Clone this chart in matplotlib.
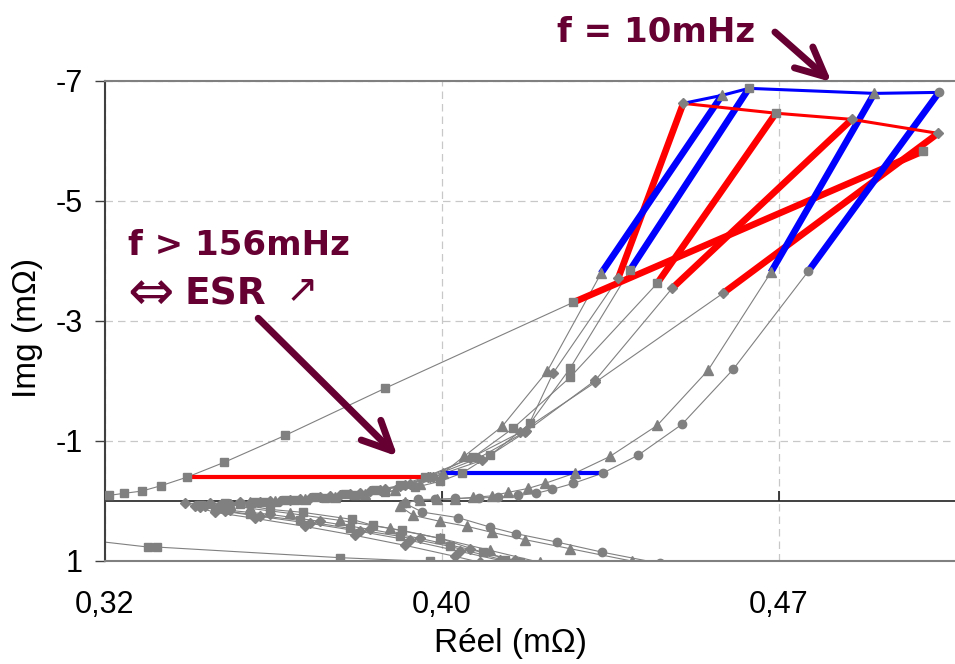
import matplotlib
matplotlib.use("Agg")
import matplotlib.pyplot as plt
from matplotlib.patches import ArrowStyle

plt.rcParams['font.family'] = ['Liberation Sans', 'DejaVu Sans']
plt.rcParams['axes.unicode_minus'] = False

# ---------------- impedance data (real part, imaginary part) in mOhm ----------------
# Each sweep runs from 10 mHz (first point) to high frequency (last point).

# sweeps ending in the red family
re_ra = [0.4487, 0.4342, 0.4197, 0.4135, 0.4039, 0.3930, 0.3879, 0.3823, 0.3768, 0.3701, 0.3634,
         0.3567, 0.3501, 0.3434, 0.3378, 0.3411, 0.3478, 0.3567, 0.3679, 0.3790, 0.3901, 0.4012, 0.4113]
im_ra = [-6.622, -3.705, -2.122, -1.138, -0.672, -0.393, -0.272, -0.188, -0.122, -0.072, -0.022,
         0.012, 0.028, 0.045, 0.045, 0.112, 0.162, 0.228, 0.345, 0.478, 0.628, 0.812, 0.995]

re_rb = [0.4693, 0.4429, 0.4235, 0.4108, 0.4019, 0.3912, 0.3857, 0.3801, 0.3734, 0.3667, 0.3601,
         0.3534, 0.3467, 0.3411, 0.3445, 0.3523, 0.3634, 0.3745, 0.3857, 0.3968, 0.4090]
im_rb = [-6.458, -3.622, -2.055, -1.205, -0.722, -0.393, -0.255, -0.172, -0.105, -0.055, -0.005,
         0.028, 0.045, 0.078, 0.145, 0.228, 0.328, 0.462, 0.595, 0.762, 0.995]

re_rc = [0.4862, 0.4462, 0.4291, 0.4137, 0.4030, 0.3923, 0.3868, 0.3812, 0.3745, 0.3679, 0.3612,
         0.3545, 0.3478, 0.3423, 0.3467, 0.3545, 0.3656, 0.3768, 0.3879, 0.3990, 0.4079]
im_rc = [-6.355, -3.538, -2.005, -1.155, -0.705, -0.393, -0.255, -0.172, -0.105, -0.055, -0.005,
         0.028, 0.062, 0.095, 0.178, 0.262, 0.378, 0.512, 0.662, 0.845, 0.995]

re_rd = [0.5020, 0.4242, 0.3823, 0.3601, 0.3465, 0.3383, 0.3325, 0.3282, 0.3242, 0.3209, 0.3156,
         0.3122, 0.3127, 0.3167, 0.3296, 0.3316, 0.3723, 0.3923]
im_rd = [-5.822, -3.305, -1.872, -1.088, -0.638, -0.393, -0.250, -0.160, -0.122, -0.088, -0.038,
         0.078, 0.412, 0.662, 0.773, 0.773, 0.950, 1.012]

re_re = [0.5054, 0.4575, 0.4291, 0.4124, 0.4012, 0.3919, 0.3857, 0.3790, 0.3723, 0.3656, 0.3590,
         0.3523, 0.3456, 0.3400, 0.3445, 0.3534, 0.3645, 0.3756, 0.3868, 0.3979, 0.4035]
im_re = [-6.122, -3.455, -1.972, -1.138, -0.705, -0.393, -0.238, -0.155, -0.088, -0.038, 0.003,
         0.045, 0.078, 0.095, 0.195, 0.295, 0.428, 0.578, 0.745, 0.928, 1.028]

# sweeps ending in the blue family
re_b1 = [0.4573, 0.4304, 0.4184, 0.4084, 0.3999, 0.3952, 0.3901, 0.3846, 0.3779, 0.3712, 0.3645,
         0.3578, 0.3523, 0.3478, 0.3523, 0.3612, 0.3723, 0.3834, 0.3946, 0.4057, 0.4168]
im_b1 = [-6.755, -3.788, -2.155, -1.238, -0.738, -0.460, -0.272, -0.172, -0.105, -0.055, -0.022,
         0.003, 0.028, 0.062, 0.128, 0.212, 0.328, 0.462, 0.628, 0.828, 1.028]

re_b2 = [0.4633, 0.4368, 0.4235, 0.4146, 0.4057, 0.3995, 0.3946, 0.3890, 0.3823, 0.3756, 0.3690,
         0.3623, 0.3556, 0.3501, 0.3567, 0.3641, 0.3750, 0.3797, 0.3861, 0.3946, 0.4041, 0.4124]
im_b2 = [-6.872, -3.838, -2.205, -1.288, -0.755, -0.460, -0.322, -0.222, -0.138, -0.088, -0.038,
         -0.005, 0.028, 0.062, 0.145, 0.195, 0.312, 0.412, 0.495, 0.628, 0.862, 1.028]

re_b3 = [0.4912, 0.4682, 0.4542, 0.4429, 0.4324, 0.4246, 0.4179, 0.4142, 0.4097, 0.4061, 0.4019,
         0.3979, 0.3939, 0.3901, 0.3868, 0.3857, 0.3886, 0.3946, 0.4006, 0.4061, 0.4135, 0.4235,
         0.4373, 0.4435]
im_b3 = [-6.788, -3.805, -2.172, -1.255, -0.738, -0.460, -0.288, -0.205, -0.138, -0.080, -0.055,
         -0.030, -0.022, -0.005, 0.028, 0.095, 0.245, 0.345, 0.428, 0.528, 0.650, 0.800,
         1.007, 1.095]

re_b4 = [0.5056, 0.4765, 0.4598, 0.4484, 0.4386, 0.4308, 0.4242, 0.4195, 0.4159, 0.4119, 0.4075,
         0.4032, 0.3979, 0.3935, 0.3897, 0.3868, 0.3906, 0.3986, 0.4057, 0.4115, 0.4206, 0.4306,
         0.4435]
im_b4 = [-6.805, -3.822, -2.188, -1.272, -0.755, -0.460, -0.288, -0.188, -0.122, -0.088, -0.055,
         -0.047, -0.038, -0.022, -0.022, 0.045, 0.190, 0.283, 0.440, 0.550, 0.690, 0.857,
         1.045]

# axis ticks
x_ticks = [0.32, 0.395, 0.47]
x_tick_labels = ['0,32', '0,40', '0,47']
y_ticks = [-7, -5, -3, -1, 1]
y_tick_labels = ['-7', '-5', '-3', '-1', '1']

# ---------------- figure ----------------
GREY = '#808080'
MAROON = '#660033'
RED = '#FF0000'
BLUE = '#0000FF'

fig = plt.figure(figsize=(9.55, 6.64), dpi=100)
ax = fig.add_axes([0.1099, 0.1556, 0.8901, 0.7229])
ax.set_xlim(0.32, 0.50917)
ax.set_ylim(1, -7)

ax.set_xticks(x_ticks)
ax.set_xticklabels(x_tick_labels)
ax.set_yticks(y_ticks)
ax.set_yticklabels(y_tick_labels)
ax.grid(True, color='#c8c8c8', linestyle=(0, (6, 4)), lw=0.9, zorder=0)
ax.set_axisbelow(True)

for side in ('top', 'bottom'):
    ax.spines[side].set_color(GREY)
    ax.spines[side].set_linewidth(1.5)
ax.spines['left'].set_color('#404040')
ax.spines['left'].set_linewidth(1.5)
ax.spines['right'].set_visible(False)

ax.tick_params(axis='y', direction='out', length=7, width=1, color='#404040',
               pad=9, labelsize=22)
ax.tick_params(axis='x', length=0, pad=21, labelsize=22)

# horizontal axis line at Im = 0 with its tick marks
ax.axhline(0, color='#202020', lw=1.2, zorder=1.5)
ax.plot(x_ticks, [0] * len(x_ticks), ls='none', marker=2, ms=7, mew=1.2,
        color='#202020', zorder=1.6)

ax.set_xlabel('Réel (mΩ)', fontsize=24)
ax.set_ylabel('Img (mΩ)', fontsize=24)
ax.xaxis.set_label_coords(0.4776, -0.172)
ax.xaxis.label.set_va('center')
ax.yaxis.set_label_coords(-0.0906, 0.485)
ax.yaxis.label.set_va('center')

red_sweeps = [(re_ra, im_ra, 'D', 5.5), (re_rb, im_rb, 's', 5.5), (re_rc, im_rc, 'D', 5.5),
              (re_rd, im_rd, 's', 5.5), (re_re, im_re, 'D', 5.5)]
blue_sweeps = [(re_b1, im_b1, '^', 6.5), (re_b2, im_b2, 's', 5.5),
               (re_b3, im_b3, '^', 6.5), (re_b4, im_b4, 'o', 6)]

for re, im, mk, ms in red_sweeps + blue_sweeps:
    ax.plot(re, im, color=GREY, lw=0.8, zorder=2)
    ax.plot(re, im, ls='none', marker=mk, ms=ms, color=GREY, mec=GREY, zorder=4)

# low-frequency segments (10 mHz -> next point)
for re, im, _, _ in red_sweeps:
    ax.plot(re[:2], im[:2], color=RED, lw=4.8, solid_capstyle='butt', zorder=3)
for re, im, _, _ in blue_sweeps:
    ax.plot(re[:2], im[:2], color=BLUE, lw=4.8, solid_capstyle='butt', zorder=3)

# 10 mHz points joined across sweeps
top_red = [re_ra, re_rb, re_rc, re_re], [im_ra, im_rb, im_rc, im_re]
top_blue = [re_ra, re_b1, re_b2, re_b3, re_b4], [im_ra, im_b1, im_b2, im_b3, im_b4]
ax.plot([r[0] for r in top_red[0]], [i[0] for i in top_red[1]], color=RED, lw=2.2, zorder=3)
ax.plot([r[0] for r in top_blue[0]], [i[0] for i in top_blue[1]], color=BLUE, lw=2.2, zorder=3)

# ESR level joined across sweeps
ESR = 5
esr_red = sorted([(r[ESR], i[ESR]) for r, i, _, _ in red_sweeps])
esr_blue = sorted([(r[ESR], i[ESR]) for r, i, _, _ in blue_sweeps])
ax.plot([p[0] for p in esr_red], [p[1] for p in esr_red], color=RED, lw=3, zorder=3)
ax.plot([p[0] for p in esr_blue], [p[1] for p in esr_blue], color=BLUE, lw=3, zorder=3)

# ---------------- annotations ----------------
note = dict(fontfamily='DejaVu Sans', fontweight='bold', color=MAROON)
fig.text(0.5832, 0.9372, 'f = 10mHz', ha='left', va='baseline', fontsize=24.5, **note)
fig.text(0.1343, 0.6160, 'f > 156mHz', ha='left', va='baseline', fontsize=24.5, **note)
fig.text(0.1937, 0.5407, 'ESR', ha='left', va='baseline', fontsize=27, **note)
fig.text(0.1330, 0.5557, '⇔', ha='left', va='center', fontfamily='DejaVu Sans',
         fontsize=40, color=MAROON)
fig.text(0.2990, 0.5630, '↗', ha='left', va='center', fontfamily='DejaVu Sans',
         fontsize=28, color=MAROON)

head = ArrowStyle('->', head_length=2.1, head_width=1.0)
for tip, tail in [((0.4817, -6.977), (0.4691, -7.81)),
                  ((0.3851, -0.738), (0.3541, -3.04))]:
    ax.annotate('', xy=tip, xytext=tail, xycoords='data', annotation_clip=False,
                arrowprops=dict(arrowstyle=head, color=MAROON, lw=5, shrinkA=0, shrinkB=0,
                                mutation_scale=10), zorder=5)

fig.savefig('out.png', dpi=100)
